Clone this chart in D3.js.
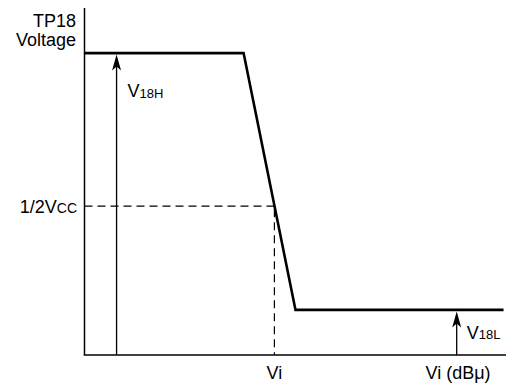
<!DOCTYPE html>
<html><head><meta charset="utf-8">
<script src="https://cdn.jsdelivr.net/npm/d3@7"></script>
<style>html,body{margin:0;padding:0;background:#fff}text{font-family:"Liberation Sans",Arial,sans-serif;fill:#000}</style>
</head><body><svg id="c" width="506" height="383"></svg>
<script>
// normalized data units (x: input level, y: TP18 voltage)
const curveX = [0, 3.77, 5.0, 9.93];
const curveY = [8.70, 8.70, 1.30, 1.30];
const halfVcc = 4.29;
const viX = 4.5;
const arrowHX = 0.76, arrowLX = 8.82;
const yLabels = ["TP18", "Voltage"];
const xLabels = ["Vi", "Vi (dBμ)"];

const svg = d3.select("#c");
const x = d3.scaleLinear().domain([0, 10]).range([84.5, 506.5]);
const y = d3.scaleLinear().domain([0, 10]).range([355, 8]);

// axes
svg.append("line").attr("x1", x(0)).attr("x2", x(0)).attr("y1", y(10)).attr("y2", y(0)).attr("stroke", "#000").attr("stroke-width", 1.5);
svg.append("line").attr("x1", x(0)-0.75).attr("x2", x(10)).attr("y1", y(0)).attr("y2", y(0)).attr("stroke", "#000").attr("stroke-width", 1.5);

// dashed guides
svg.append("path").attr("d", d3.line()([[x(0), y(halfVcc)], [x(viX), y(halfVcc)]]))
  .attr("stroke", "#000").attr("stroke-width", 1.2).attr("stroke-dasharray", "8,5").attr("fill", "none");
svg.append("path").attr("d", d3.line()([[x(viX), y(halfVcc)+3], [x(viX), y(0)]]))
  .attr("stroke", "#000").attr("stroke-width", 1.2).attr("stroke-dasharray", "8,5").attr("fill", "none");

// curve
const pts = curveX.map((v, i) => [x(v), y(curveY[i])]);
svg.append("path").attr("d", d3.line()(pts)).attr("stroke", "#000").attr("stroke-width", 2.6).attr("fill", "none").attr("stroke-linejoin", "miter");

// arrows
function arrow(xv, ytop) {
  const px = x(xv), top = y(ytop) + 1.5;
  svg.append("line").attr("x1", px).attr("x2", px).attr("y1", y(0)).attr("y2", top + 8).attr("stroke", "#000").attr("stroke-width", 1.3);
  svg.append("path").attr("d", `M${px},${top} L${px+4.5},${top+16} L${px},${top+12} L${px-4.5},${top+16} Z`).attr("fill", "#000");
}
arrow(arrowHX, curveY[0]);
arrow(arrowLX, curveY[2]);

// labels
const fs = 18, sub = 13;
const t1 = svg.append("text").attr("x", 76).attr("text-anchor", "end").attr("font-size", fs);
t1.append("tspan").attr("x", 76).attr("y", 27).text(yLabels[0]);
t1.append("tspan").attr("x", 76).attr("y", 46).text(yLabels[1]);

const tv = svg.append("text").attr("x", 77).attr("y", y(halfVcc) + 6.5).attr("text-anchor", "end").attr("font-size", fs);
tv.append("tspan").text("1/2V");
tv.append("tspan").attr("font-size", 14).text("CC");

function vlabel(px, py, s) {
  const t = svg.append("text").attr("x", px).attr("y", py).attr("font-size", fs);
  t.append("tspan").text("V");
  t.append("tspan").attr("font-size", sub).attr("dy", 0.5).text(s);
}
vlabel(x(arrowHX) + 11, y(curveY[0]) + 44, "18H");
vlabel(x(arrowLX) + 10, y(curveY[2]) + 29, "18L");

svg.append("text").attr("x", x(viX)).attr("y", 379).attr("text-anchor", "middle").attr("font-size", fs).text(xLabels[0]);
svg.append("text").attr("x", 458).attr("y", 379).attr("text-anchor", "middle").attr("font-size", fs).text(xLabels[1]);
</script></body></html>
